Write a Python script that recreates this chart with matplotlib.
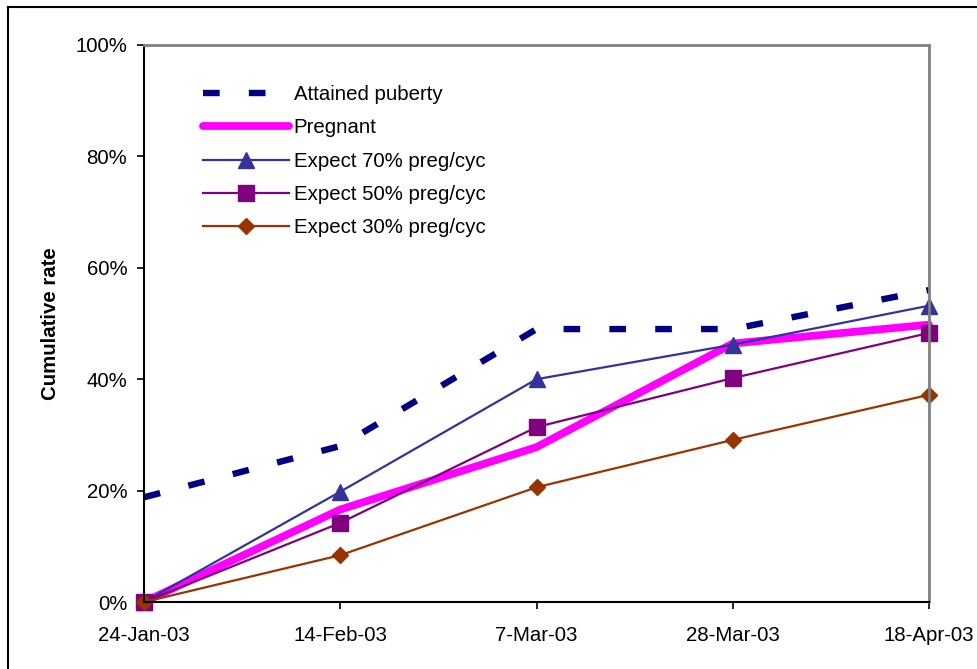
"""Cumulative puberty and pregnancy rates against expected pregnancy curves."""

import matplotlib
matplotlib.use("Agg")
import matplotlib.pyplot as plt
from matplotlib.lines import Line2D
from matplotlib.ticker import PercentFormatter

plt.rcParams['font.family'] = ['Liberation Sans', 'DejaVu Sans']
plt.rcParams['lines.scale_dashes'] = False

DATES = ['24-Jan-03', '14-Feb-03', '7-Mar-03', '28-Mar-03', '18-Apr-03']

ATTAINED_PUBERTY = [18.8, 28.0, 49.0, 49.0, 56.0]
PREGNANT = [0.0, 16.6, 27.8, 46.4, 49.8]
EXPECT_70 = [0.0, 19.8, 40.0, 46.2, 53.2]
EXPECT_50 = [0.0, 14.2, 31.4, 40.2, 48.3]
EXPECT_30 = [0.0, 8.4, 20.6, 29.1, 37.2]

FONT_SIZE = 14.7


def plot_rates() -> None:
    """Draw the five cumulative series and save the figure."""
    fig = plt.figure(figsize=(9.78, 6.69), dpi=100)
    ax = fig.add_axes([144 / 978, 1 - 602 / 669, 785 / 978, 557 / 669])

    x = list(range(len(DATES)))

    ax.plot(x, ATTAINED_PUBERTY, color='#000080', linewidth=4.6,
            dashes=(12, 21), dash_capstyle='butt', label='Attained puberty')
    ax.plot(x, PREGNANT, color='#FF00FF', linewidth=5.6,
            solid_capstyle='round', label='Pregnant')
    ax.plot(x, EXPECT_70, color='#333399', linewidth=1.6, marker='^',
            markersize=11, label='Expect 70% preg/cyc')
    ax.plot(x, EXPECT_50, color='#800080', linewidth=1.6, marker='s',
            markersize=11, label='Expect 50% preg/cyc')
    ax.plot(x, EXPECT_30, color='#993300', linewidth=1.6, marker='D',
            markersize=8.6, label='Expect 30% preg/cyc')

    # axes limits and ticks
    ax.set_xlim(0, len(DATES) - 1)
    ax.set_ylim(0, 100)
    ax.set_xticks(x)
    ax.set_xticklabels(DATES)
    ax.set_yticks([0, 20, 40, 60, 80, 100])
    ax.yaxis.set_major_formatter(PercentFormatter(decimals=0))
    ax.tick_params(axis='both', direction='out', length=5, width=1.2,
                   labelsize=FONT_SIZE, color='black', pad=7)
    ax.tick_params(axis='x', pad=12)

    for side in ('left', 'bottom'):
        ax.spines[side].set_color('black')
        ax.spines[side].set_linewidth(1.5)
    for side in ('top', 'right'):
        ax.spines[side].set_color('#808080')
        ax.spines[side].set_linewidth(2)

    for line in ax.get_lines():
        line.set_clip_on(False)

    ax.set_ylabel('Cumulative rate', fontsize=FONT_SIZE, fontweight='bold',
                  labelpad=11)

    ax.legend(loc='upper left', bbox_to_anchor=(0.075, 0.928), frameon=False,
              fontsize=FONT_SIZE, handlelength=4.2, handletextpad=0.25,
              labelspacing=0.7, borderpad=0, borderaxespad=0, numpoints=1)

    # outer chart border
    fig.add_artist(Line2D([8 / 978, 1], [1 - 7 / 669, 1 - 7 / 669],
                          color='black', linewidth=1.5))
    fig.add_artist(Line2D([8 / 978, 8 / 978], [0, 1 - 7 / 669],
                          color='black', linewidth=1.5))

    fig.savefig('out.png', dpi=100, facecolor='white')


if __name__ == '__main__':
    plot_rates()
